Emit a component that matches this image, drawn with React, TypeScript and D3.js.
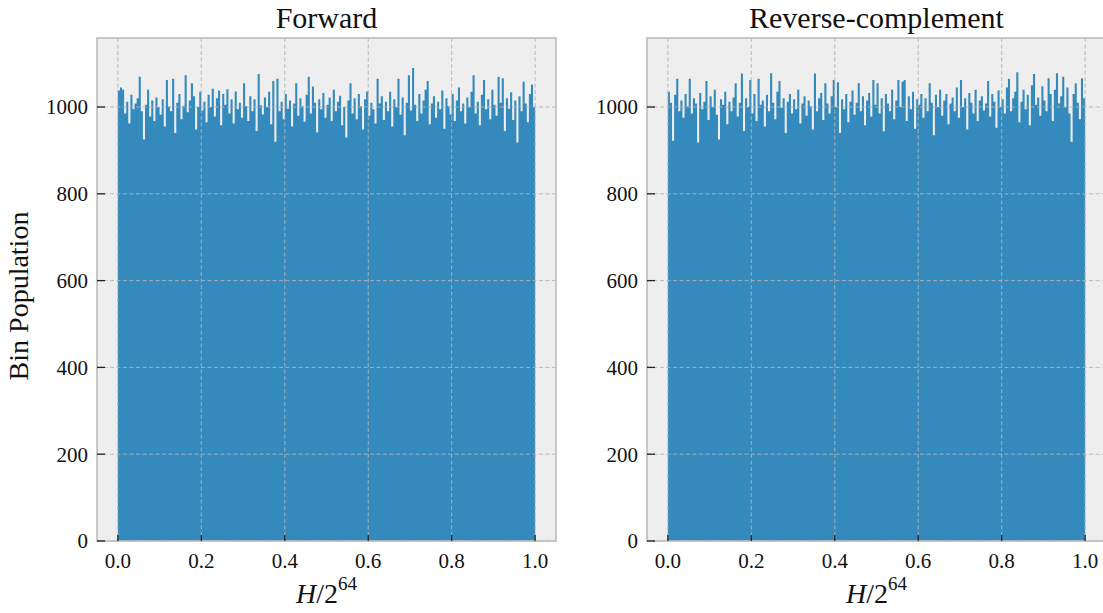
import React from "react";
import { scaleLinear, area, curveStepAfter } from "d3";

// bin populations, 200 bins over [0, 1)
const forwardBins = [
  1038, 1045, 1040, 985, 1012, 962, 1028, 995, 1008, 1020,
  1070, 990, 925, 1005, 1040, 978, 1015, 968, 1022, 1000,
  982, 1018, 955, 1062, 1001, 990, 1065, 940, 1010, 1030,
  972, 1003, 1073, 988, 1015, 1055, 1025, 948, 1000, 1035,
  992, 1012, 965, 1028, 1000, 1042, 978, 1020, 1038, 958,
  1030, 1005, 1041, 985, 1018, 962, 1036, 995, 1010, 975,
  1055, 1002, 968, 1025, 990, 1018, 945, 1076, 1004, 983,
  1022, 1000, 1035, 960, 1060, 920, 1065, 990, 1012, 972,
  1030, 996, 1015, 955, 1008, 1055, 980, 1020, 1002, 966,
  1028, 1070, 985, 1047, 1010, 942, 1018, 995, 1032, 975,
  1005, 1022, 968, 1040, 990, 1012, 1026, 958, 1000, 930,
  1015, 1055, 985, 1020, 972, 1030, 1002, 948, 1018, 1036,
  980, 1010, 995, 962, 1065, 1008, 1025, 970, 1012, 990,
  1035, 955, 1018, 1000, 1065, 982, 1022, 935, 1010, 1073,
  992, 1090, 1005, 968, 1030, 985, 1015, 1040, 1060, 960,
  1008, 1025, 975, 1012, 995, 1038, 950, 1020, 1002, 983,
  1030, 968, 1015, 1045, 990, 1008, 962, 1022, 1000, 1035,
  1073, 985, 1012, 958, 1028, 1062, 995, 1018, 972, 1040,
  1005, 980, 1070, 1010, 1066, 945, 1020, 996, 1034, 970,
  1015, 918, 1025, 990, 1058, 1008, 965, 1030, 1052, 1000,
];

const reverseBins = [
  1035, 1010, 922, 1028, 1065, 990, 1015, 975, 1030, 1002,
  1065, 985, 1020, 1008, 918, 1032, 995, 1012, 1060, 970,
  1025, 1000, 1040, 982, 925, 1018, 1005, 1035, 960, 1012,
  990, 1022, 1055, 978, 1010, 1077, 945, 1020, 1000, 1062,
  985, 1030, 968, 1065, 1005, 1015, 955, 1028, 990, 1078,
  1010, 972, 1035, 1060, 998, 1020, 940, 1012, 1030, 985,
  1018, 995, 1040, 962, 1008, 1025, 980, 1015, 1002, 948,
  1077, 990, 1020, 1032, 970, 1055, 1008, 985, 1025, 1062,
  1000, 1057, 940, 1018, 995, 1030, 965, 1012, 1038, 982,
  1010, 1055, 990, 1025, 958, 1015, 1032, 978, 1062, 1005,
  1055, 985, 1020, 944, 1030, 1008, 990, 1040, 972, 1015,
  1062, 1000, 1058, 1062, 968, 1025, 995, 1035, 950, 1018,
  1005, 1030, 975, 1020, 990, 1055, 1010, 935, 1028, 1000,
  1040, 980, 1015, 1030, 960, 1008, 1022, 990, 1045, 975,
  1062, 1000, 1020, 948, 1032, 1010, 985, 1040, 968, 1015,
  1025, 992, 1008, 1060, 978, 1030, 1012, 952, 1038, 1000,
  1018, 985, 1045, 1065, 990, 1020, 1035, 1080, 965, 1012,
  1040, 995, 1028, 958, 1050, 1076, 1005, 1022, 980, 1048,
  1015, 990, 1066, 1030, 968, 1040, 1078, 1008, 1025, 1070,
  1000, 1045, 985, 920, 1030, 1055, 1010, 972, 1066, 1020,
];

const xTicks = [0, 0.2, 0.4, 0.6, 0.8, 1.0];
const yTicks = [0, 200, 400, 600, 800, 1000];
const titles = ["Forward", "Reverse-complement"];

const FONT = "'Liberation Serif', 'DejaVu Serif', serif";
const BAR = "#348ABD";
const GRID = "#b2b2b2";

const top = 38, bottom = 541;
const y = scaleLinear().domain([0, 1159]).range([bottom, top]);

const Panel = ({ left, width, bins, title, showYLabel }) => {
  const x = scaleLinear().domain([-0.05, 1.05]).range([left, left + width]);
  const bw = 1 / bins.length;
  const cx = left + width / 2;
  // histogram as one stepped area, so neighbouring bars have no seams
  const pts = bins.map((d, i) => [i * bw, d]).concat([[1, bins[bins.length - 1]]]);
  const hist = area()
    .x((p) => x(p[0]))
    .y0(bottom)
    .y1((p) => y(p[1]))
    .curve(curveStepAfter)(pts);
  return (
    <g>
      <rect x={left} y={top} width={width} height={bottom - top} fill="#eeeeee" />
      <path d={hist} fill={BAR} />
      {/* grid on top of the bars */}
      {xTicks.map((t) => (
        <line key={"gx" + t} x1={x(t)} x2={x(t)} y1={top} y2={bottom} stroke={GRID} strokeWidth={0.9} strokeDasharray="4,2.5" />
      ))}
      {yTicks.map((t) => (
        <line key={"gy" + t} x1={left} x2={left + width} y1={y(t)} y2={y(t)} stroke={GRID} strokeWidth={0.9} strokeDasharray="4,2.5" />
      ))}
      <rect x={left} y={top} width={width} height={bottom - top} fill="none" stroke="#bcbcbc" strokeWidth={1.6} />
      {xTicks.map((t) => (
        <g key={"tx" + t}>
          <line x1={x(t)} x2={x(t)} y1={bottom} y2={bottom - 6} stroke="#222" strokeWidth={1.3} />
          <text x={x(t)} y={568} textAnchor="middle" fontFamily={FONT} fontSize={21} fill="#111">
            {t.toFixed(1)}
          </text>
        </g>
      ))}
      {yTicks.map((t) => (
        <g key={"ty" + t}>
          <line x1={left} x2={left + 8} y1={y(t)} y2={y(t)} stroke="#222" strokeWidth={1.3} />
          <text x={left - 9} y={y(t)} dy="0.35em" textAnchor="end" fontFamily={FONT} fontSize={21} fill="#111">
            {t}
          </text>
        </g>
      ))}
      <text x={cx} y={28} textAnchor="middle" fontFamily={FONT} fontSize={30} fill="#111">
        {title}
      </text>
      <text x={cx} y={603} textAnchor="middle" fontFamily={FONT} fontSize={28} fill="#111">
        <tspan fontStyle="italic">H</tspan>/2<tspan dy={-13} fontSize={19}>64</tspan>
      </text>
      {showYLabel && (
        <text transform={`translate(28, 296) rotate(-90)`} textAnchor="middle" fontFamily={FONT} fontSize={28} fill="#111">
          Bin Population
        </text>
      )}
    </g>
  );
};

export default function App() {
  return (
    <svg width={1103} height={613} style={{ position: "absolute", left: 0, top: 0, background: "#fff" }}>
      <Panel left={97} width={459} bins={forwardBins} title={titles[0]} showYLabel />
      <Panel left={647} width={459} bins={reverseBins} title={titles[1]} showYLabel={false} />
    </svg>
  );
}
